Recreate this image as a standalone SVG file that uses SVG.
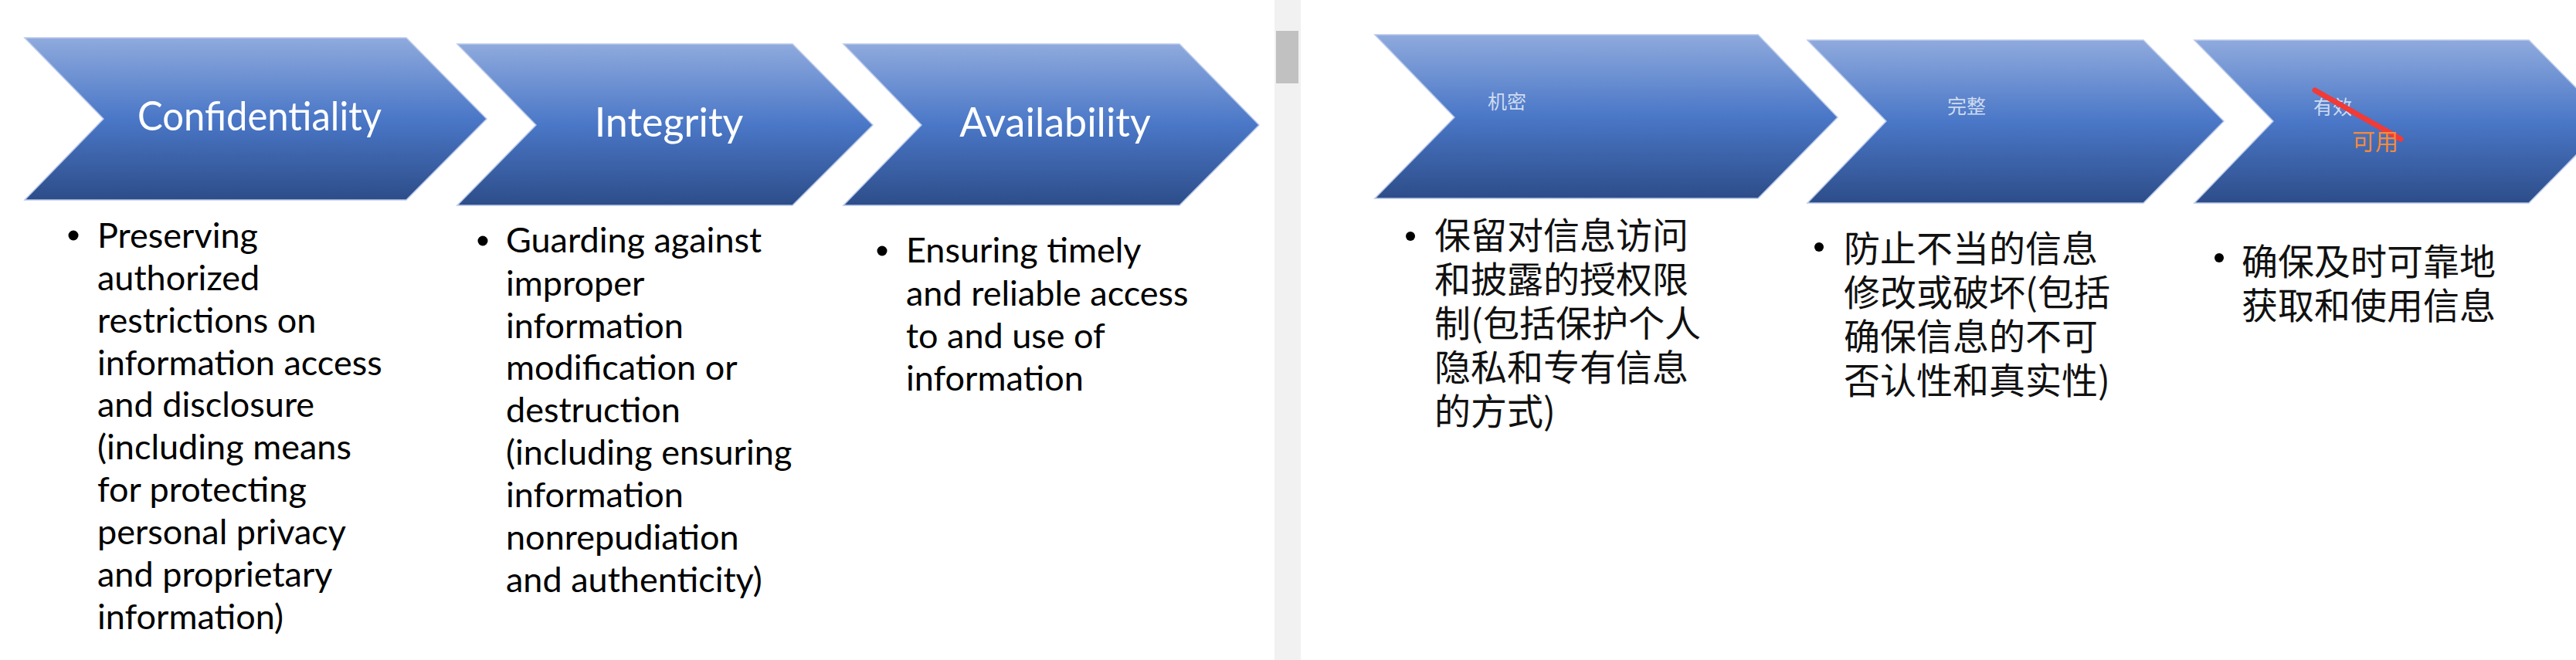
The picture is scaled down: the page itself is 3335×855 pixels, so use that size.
<svg xmlns="http://www.w3.org/2000/svg" width="3335" height="855" viewBox="0 0 3335 855">
<style>
.hd{font-family:Lato,"Liberation Sans",sans-serif;font-size:52px;fill:#ffffff;text-anchor:middle}
.en{font-family:Lato,"Liberation Sans",sans-serif;font-size:45px;fill:#000000}
.zh{font-family:"Noto Sans CJK SC",sans-serif;font-size:47px;fill:#111111}
.zhh{font-family:"Noto Sans CJK SC",sans-serif;font-size:25px;fill:#dfe7f6;fill-opacity:0.9}
.chev{fill:url(#g);stroke:#b8c8ea;stroke-width:1.5}
</style>
<defs>
<linearGradient id="g" x1="0" y1="0" x2="0" y2="1">
<stop offset="0" stop-color="#8FAADD"/>
<stop offset="0.5" stop-color="#4A77C7"/>
<stop offset="1" stop-color="#2D4D89"/>
</linearGradient>
</defs>
<rect width="3335" height="855" fill="#ffffff"/>
<g id="scrollbar">
<rect x="1650" y="0" width="34" height="855" fill="#f1f1f1"/>
<rect x="1652" y="40" width="29" height="68" fill="#c1c1c1"/>
</g>
<g id="connectors"></g>
<g id="confidentiality">
<polygon class="chev" points="32,49 526,49 630,154 526,259 32,259 134,154"/>
<text class="hd" x="336" y="169" textLength="316" lengthAdjust="spacingAndGlyphs">Confidentiality</text>
</g>
<g id="integrity">
<polygon class="chev" points="592,57 1026,57 1130,162 1026,266 592,266 694,162"/>
<text class="hd" x="866" y="177">Integrity</text>
</g>
<g id="availability">
<polygon class="chev" points="1092,57 1527,57 1630,162 1527,266 1092,266 1193,162"/>
<text class="hd" x="1366" y="177">Availability</text>
</g>
<g id="desc-confidentiality">
<circle cx="95" cy="305" r="6.5"/>
<text class="en" x="126" y="321">Preserving</text>
<text class="en" x="126" y="376">authorized</text>
<text class="en" x="126" y="431">restrictions on</text>
<text class="en" x="126" y="486">information access</text>
<text class="en" x="126" y="540">and disclosure</text>
<text class="en" x="126" y="595">(including means</text>
<text class="en" x="126" y="650">for protecting</text>
<text class="en" x="126" y="705">personal privacy</text>
<text class="en" x="126" y="760">and proprietary</text>
<text class="en" x="126" y="815">information)</text>
</g>
<g id="desc-integrity">
<circle cx="625" cy="312" r="6.5"/>
<text class="en" x="655" y="327">Guarding against</text>
<text class="en" x="655" y="383">improper</text>
<text class="en" x="655" y="438">information</text>
<text class="en" x="655" y="492">modification or</text>
<text class="en" x="655" y="547">destruction</text>
<text class="en" x="655" y="602">(including ensuring</text>
<text class="en" x="655" y="657">information</text>
<text class="en" x="655" y="712">nonrepudiation</text>
<text class="en" x="655" y="767">and authenticity)</text>
</g>
<g id="desc-availability">
<circle cx="1142" cy="325" r="6.5"/>
<text class="en" x="1173" y="340">Ensuring timely</text>
<text class="en" x="1173" y="396">and reliable access</text>
<text class="en" x="1173" y="451">to and use of</text>
<text class="en" x="1173" y="506">information</text>
</g>
<g id="jimi">
<polygon class="chev" points="1780,45 2276,45 2379,152 2276,257 1780,257 1883,152"/>
<text class="zhh" x="1926" y="141">机密</text>
</g>
<g id="wanzheng">
<polygon class="chev" points="2340,52 2775,52 2879,157 2775,263 2340,263 2442,157"/>
<text class="zhh" x="2521" y="147">完整</text>
</g>
<g id="youxiao">
<polygon class="chev" points="2841,52 3274,52 3378,157 3274,263 2841,263 2943,157"/>
<text class="zhh" x="2995" y="148">有效</text>
<line x1="2997" y1="117" x2="3108" y2="180" stroke="#F23A36" stroke-width="7" stroke-linecap="round"/>
<text x="3045" y="194" font-family="'Noto Sans CJK SC',sans-serif" font-size="30" fill="#F58A3A">可用</text>
</g>
<g id="desc-jimi">
<circle cx="1826" cy="306" r="6"/>
<text class="zh" x="1857" y="322">保留对信息访问</text>
<text class="zh" x="1857" y="379">和披露的授权限</text>
<text class="zh" x="1857" y="436">制(包括保护个人</text>
<text class="zh" x="1857" y="493">隐私和专有信息</text>
<text class="zh" x="1857" y="550">的方式)</text>
</g>
<g id="desc-wanzheng">
<circle cx="2355" cy="320" r="6"/>
<text class="zh" x="2387" y="339">防止不当的信息</text>
<text class="zh" x="2387" y="396">修改或破坏(包括</text>
<text class="zh" x="2387" y="453">确保信息的不可</text>
<text class="zh" x="2387" y="510">否认性和真实性)</text>
</g>
<g id="desc-youxiao">
<circle cx="2873" cy="334" r="6"/>
<text class="zh" x="2902" y="356">确保及时可靠地</text>
<text class="zh" x="2902" y="413">获取和使用信息</text>
</g>
</svg>
